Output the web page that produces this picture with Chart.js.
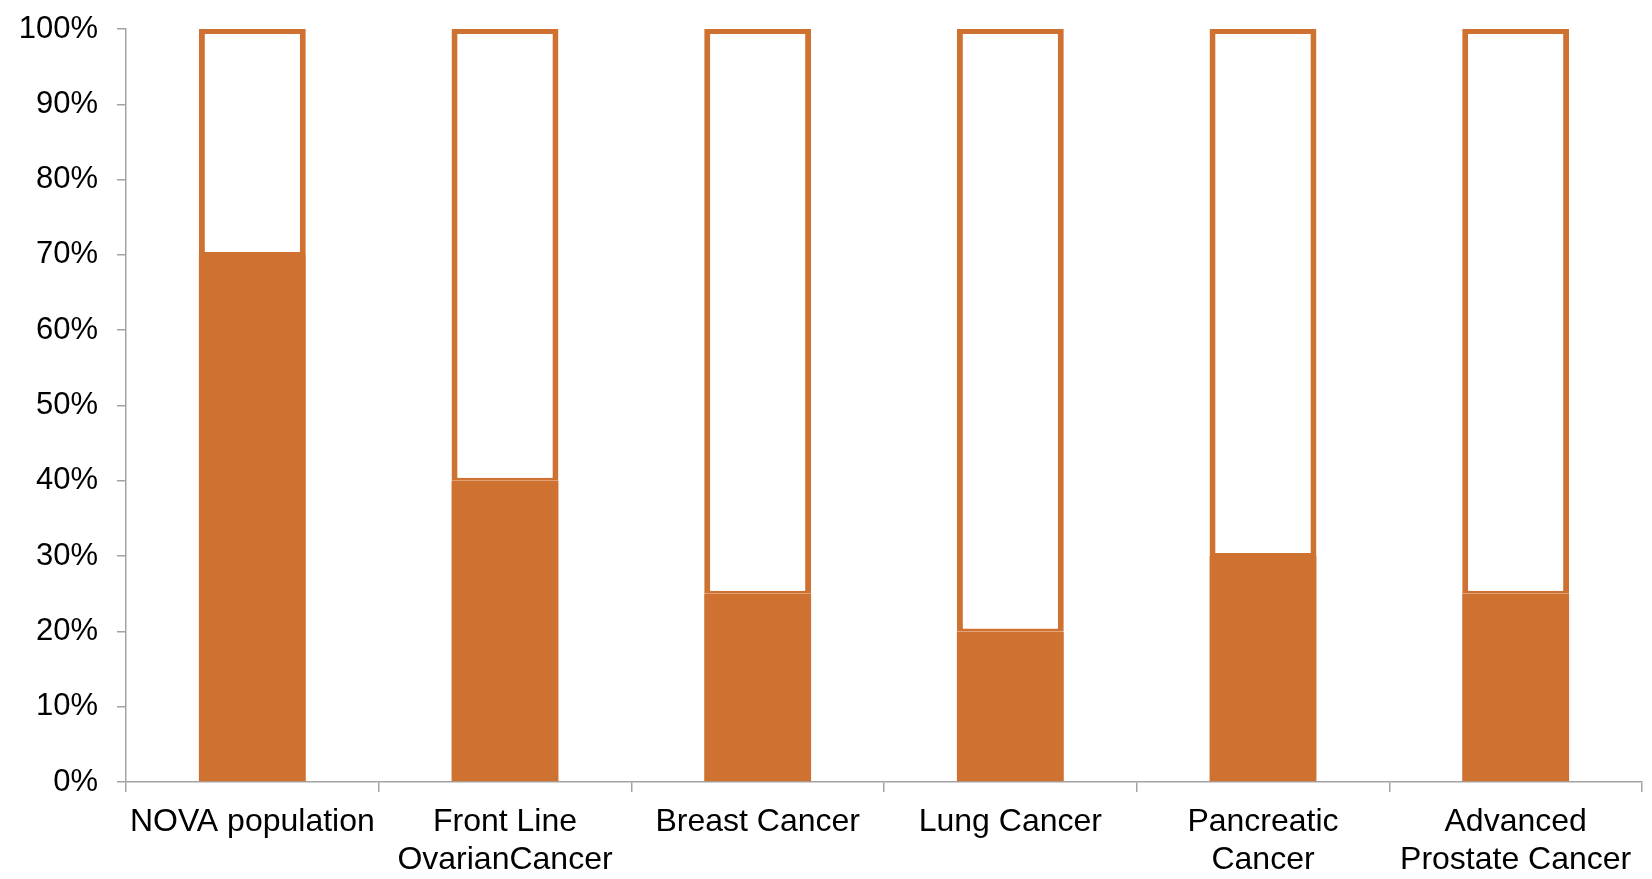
<!DOCTYPE html>
<html>
<head>
<meta charset="utf-8">
<script src="https://cdn.jsdelivr.net/npm/chart.js@4.4.1/dist/chart.umd.min.js"></script>
<style>
  html, body { margin: 0; padding: 0; background: #ffffff; }
  #wrap { width: 1652px; height: 879px; }
</style>
</head>
<body>
<div id="wrap"><canvas id="c" width="1652" height="879"></canvas></div>
<script>
// Categories (multi-line labels)
const categories = [
  'NOVA population',
  ['Front Line', 'OvarianCancer'],
  'Breast Cancer',
  'Lung Cancer',
  ['Pancreatic', 'Cancer'],
  ['Advanced', 'Prostate Cancer']
];
// Share of each group (%), filled part of the bar
const filledShare = [70, 40, 25, 20, 30, 25];
// Remaining share (%), outlined part of the bar
const remainingShare = [30, 60, 75, 80, 70, 75];
// Y-axis range and step (%)
const yMax = 100;
const yStep = 10;

const ORANGE = '#cf7130';
const AXIS = '#a3a3a3';
const FAMILY = '"Liberation Sans", Arial, sans-serif';

new Chart(document.getElementById('c'), {
  type: 'bar',
  data: {
    labels: categories,
    datasets: [
      {
        data: filledShare,
        backgroundColor: ORANGE,
        borderWidth: 0,
        barPercentage: 0.423,
        categoryPercentage: 1
      },
      {
        data: remainingShare,
        backgroundColor: '#ffffff',
        borderColor: ORANGE,
        borderWidth: { top: 5, left: 6, right: 6, bottom: 3 },
        borderSkipped: false,
        barPercentage: 0.423,
        categoryPercentage: 1
      }
    ]
  },
  options: {
    responsive: false,
    animation: false,
    devicePixelRatio: 1,
    layout: { padding: { top: 29, right: 10, left: 0, bottom: 0 } },
    plugins: { legend: { display: false }, tooltip: { enabled: false } },
    scales: {
      x: {
        stacked: true,
        border: { display: true, color: AXIS, width: 1.5 },
        grid: { offset: true, drawOnChartArea: false, drawTicks: true, tickLength: 10, color: AXIS, lineWidth: 1.5 },
        ticks: { color: '#000', font: { family: FAMILY, size: 32 }, padding: 11, maxRotation: 0, autoSkip: false },
        afterFit: (s) => { s.height = 97; }
      },
      y: {
        stacked: true,
        min: 0,
        max: yMax,
        border: { display: true, color: AXIS, width: 1.5 },
        grid: { drawOnChartArea: false, drawTicks: true, tickLength: 9, color: AXIS, lineWidth: 1.5 },
        ticks: {
          stepSize: yStep,
          color: '#000',
          font: { family: FAMILY, size: 31, lineHeight: 0.6 },
          padding: 19,
          callback: (v) => v + '%'
        },
        afterFit: (s) => { s.width = 126; }
      }
    }
  }
});
</script>
</body>
</html>
